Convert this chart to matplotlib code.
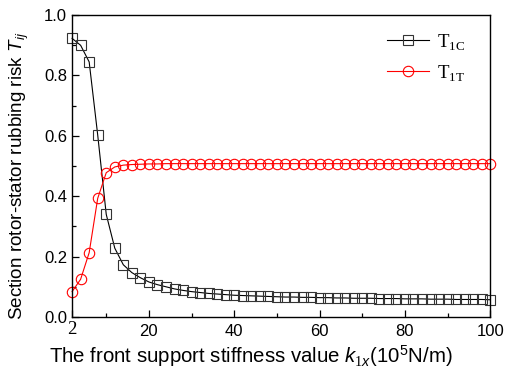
import matplotlib
matplotlib.use('Agg')
import matplotlib.pyplot as plt
from matplotlib.ticker import MultipleLocator
import matplotlib.transforms as mtransforms
import numpy as np

plt.rcParams['font.family'] = 'Liberation Sans'
plt.rcParams['mathtext.fontset'] = 'custom'
plt.rcParams['mathtext.it'] = 'Liberation Sans:italic'
plt.rcParams['mathtext.rm'] = 'Liberation Serif'
plt.rcParams['mathtext.sf'] = 'Liberation Sans'

# stiffness values k1x (1e5 N/m), step 2 from 2 to 100
k1x = list(range(2, 101, 2))

T_1C = [0.923, 0.900, 0.845, 0.603, 0.340, 0.228, 0.173, 0.147, 0.130, 0.116,
        0.107, 0.100, 0.093, 0.088, 0.084, 0.081, 0.078, 0.076, 0.074, 0.072,
        0.071, 0.070, 0.069, 0.068, 0.067, 0.066, 0.066, 0.065, 0.065, 0.064,
        0.064, 0.063, 0.063, 0.062, 0.062, 0.062, 0.061, 0.061, 0.061, 0.060,
        0.060, 0.060, 0.059, 0.059, 0.059, 0.058, 0.058, 0.058, 0.058, 0.057]

T_1T = [0.084, 0.125, 0.213, 0.393, 0.478, 0.497, 0.503, 0.505, 0.506, 0.507,
        0.507, 0.508, 0.508, 0.508, 0.508, 0.508, 0.508, 0.508, 0.508, 0.508,
        0.508, 0.508, 0.508, 0.508, 0.508, 0.508, 0.508, 0.508, 0.508, 0.508,
        0.508, 0.508, 0.508, 0.508, 0.508, 0.508, 0.508, 0.508, 0.508, 0.508,
        0.508, 0.508, 0.508, 0.508, 0.508, 0.508, 0.508, 0.508, 0.508, 0.508]

xticks = [2, 20, 40, 60, 80, 100]
xticklabels = ['', '20', '40', '60', '80', '100']

fig = plt.figure(figsize=(5.15, 3.69), dpi=100)
ax = fig.add_axes([0.140, 0.141, 0.812, 0.818])

ax.plot(k1x, T_1C, color='black', lw=0.8, marker='s', ms=7, mfc='none',
        mec='#333333', mew=0.8, label=r'T$_{\mathrm{1C}}$', clip_on=False)
ax.plot(k1x, T_1T, color='red', lw=0.8, marker='o', ms=7.5, mfc='none',
        mec='red', mew=0.8, label=r'T$_{\mathrm{1T}}$', clip_on=False)

ax.set_xlim(2, 100)
ax.set_ylim(0, 1.0)
ax.set_xticks(xticks)
ax.set_xticklabels(xticklabels)
ax.xaxis.set_minor_locator(MultipleLocator(10))
ax.yaxis.set_major_locator(MultipleLocator(0.2))
ax.yaxis.set_minor_locator(MultipleLocator(0.1))
ax.yaxis.set_major_formatter(matplotlib.ticker.FormatStrFormatter('%.1f'))
ax.tick_params(which='both', direction='in', top=False, right=False, labelsize=12)
ax.tick_params(which='major', length=5, width=0.9)
ax.tick_params(which='minor', length=3, width=0.9)
ax.tick_params(axis='x', pad=5)
for s in ax.spines.values():
    s.set_linewidth(1.0)

# the "2" at the origin is set in a serif face in the original
trans = mtransforms.blended_transform_factory(ax.transData, ax.transAxes)
ax.text(xticks[0], -0.015, str(xticks[0]), transform=trans, ha='center', va='top',
        family='Liberation Serif', fontsize=13.5)

ax.set_xlabel(r'The front support stiffness value $k_{1x}$(10$^{\mathsf{5}}$N/m)', fontsize=14.7)
ax.xaxis.set_label_coords(0.427, -0.085)
ax.set_ylabel(r'Section rotor-stator rubbing risk $T_{ij}$', fontsize=13.6)
ax.yaxis.set_label_coords(-0.098, 0.468)

ax.legend(loc='upper left', bbox_to_anchor=(0.754, 0.945), frameon=False,
          prop={'family': 'Liberation Serif', 'size': 13.5}, handlelength=2.2,
          handletextpad=0.45, labelspacing=0.6, borderpad=0, borderaxespad=0)

fig.savefig('out.png', dpi=100)
